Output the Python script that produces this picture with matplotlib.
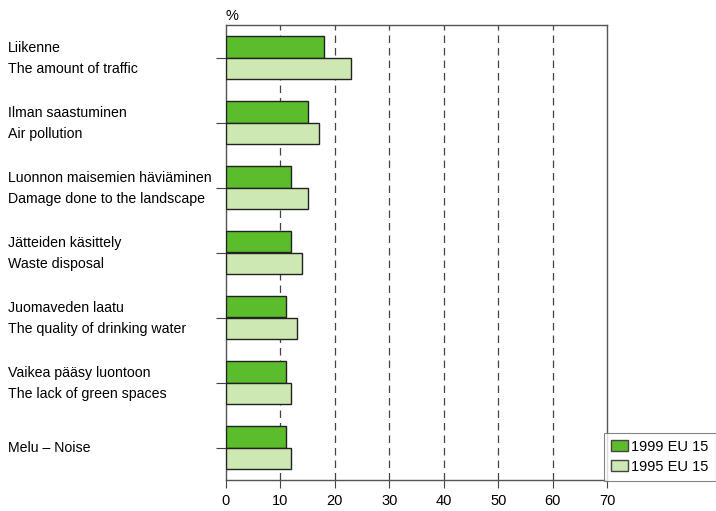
import matplotlib
matplotlib.use("Agg")
import matplotlib.pyplot as plt
import matplotlib.transforms as mtrans
import numpy as np
from matplotlib.patches import Patch

plt.rcParams['font.family'] = ['Liberation Sans Narrow', 'Liberation Sans', 'DejaVu Sans']

labels_fi = ["Liikenne", "Ilman saastuminen", "Luonnon maisemien häviäminen",
             "Jätteiden käsittely", "Juomaveden laatu", "Vaikea pääsy luontoon", None]
labels_en = ["The amount of traffic", "Air pollution", "Damage done to the landscape",
             "Waste disposal", "The quality of drinking water", "The lack of green spaces",
             "Melu – Noise"]
v1999 = [18, 15, 12, 12, 11, 11, 11]
v1995 = [23, 17, 15, 14, 13, 12, 12]
xticks = [0, 10, 20, 30, 40, 50, 60, 70]

c1999 = "#5cbd2c"
c1995 = "#cde8b0"

fig = plt.figure(figsize=(7.16, 5.11), dpi=100)
ax = fig.add_axes([226/716, 1-480/511, (607-226)/716, (480-25)/511])

n = len(labels_en)
y = np.arange(n)
h = 0.33
ax.barh(y - h/2, v1999, height=h, color=c1999, edgecolor="#222222", linewidth=1.0, zorder=3)
ax.barh(y + h/2, v1995, height=h, color=c1995, edgecolor="#222222", linewidth=1.0, zorder=3)

ax.set_xlim(0, 70)
ax.set_ylim(n - 0.5, -0.5)
ax.set_xticks(xticks)
ax.set_xticklabels([str(t) for t in xticks], fontsize=10.5)
for t in xticks[1:-1]:
    ax.axvline(t, color="#444444", linestyle=(0, (6, 4)), linewidth=0.9, zorder=1)

ax.set_yticks(y)
ax.set_yticklabels([""] * n)
ax.tick_params(axis="y", length=7, width=0.8, color="#444444")
ax.tick_params(axis="x", length=6, width=0.8, color="#444444", pad=4)
for s in ax.spines.values():
    s.set_color("#555555")
    s.set_linewidth(1.0)

trans = mtrans.blended_transform_factory(fig.transFigure, ax.transData)
lx = 8/716
fs = 10.2
for i in range(n):
    if labels_fi[i] is not None:
        ax.text(lx, i - 0.15, labels_fi[i], transform=trans, fontsize=fs, ha="left", va="center")
        ax.text(lx, i + 0.17, labels_en[i], transform=trans, fontsize=fs, ha="left", va="center")
    else:
        ax.text(lx, i, labels_en[i], transform=trans, fontsize=fs, ha="left", va="center")

fig.text(232/716, 1-16/511, "%", fontsize=10.5, ha="center", va="center")

handles = [Patch(facecolor=c1999, edgecolor="#444444", label="1999 EU 15"),
           Patch(facecolor=c1995, edgecolor="#444444", label="1995 EU 15")]
leg = fig.legend(handles=handles, loc="lower right", bbox_to_anchor=(716/716, 1-481/511),
                 fontsize=10.5, frameon=True, fancybox=False, edgecolor="#666666",
                 handlelength=1.2, handleheight=0.8, handletextpad=0.2, borderpad=0.5,
                 labelspacing=0.4, borderaxespad=0)
leg.get_frame().set_linewidth(0.8)

fig.savefig("out.png", dpi=100)
